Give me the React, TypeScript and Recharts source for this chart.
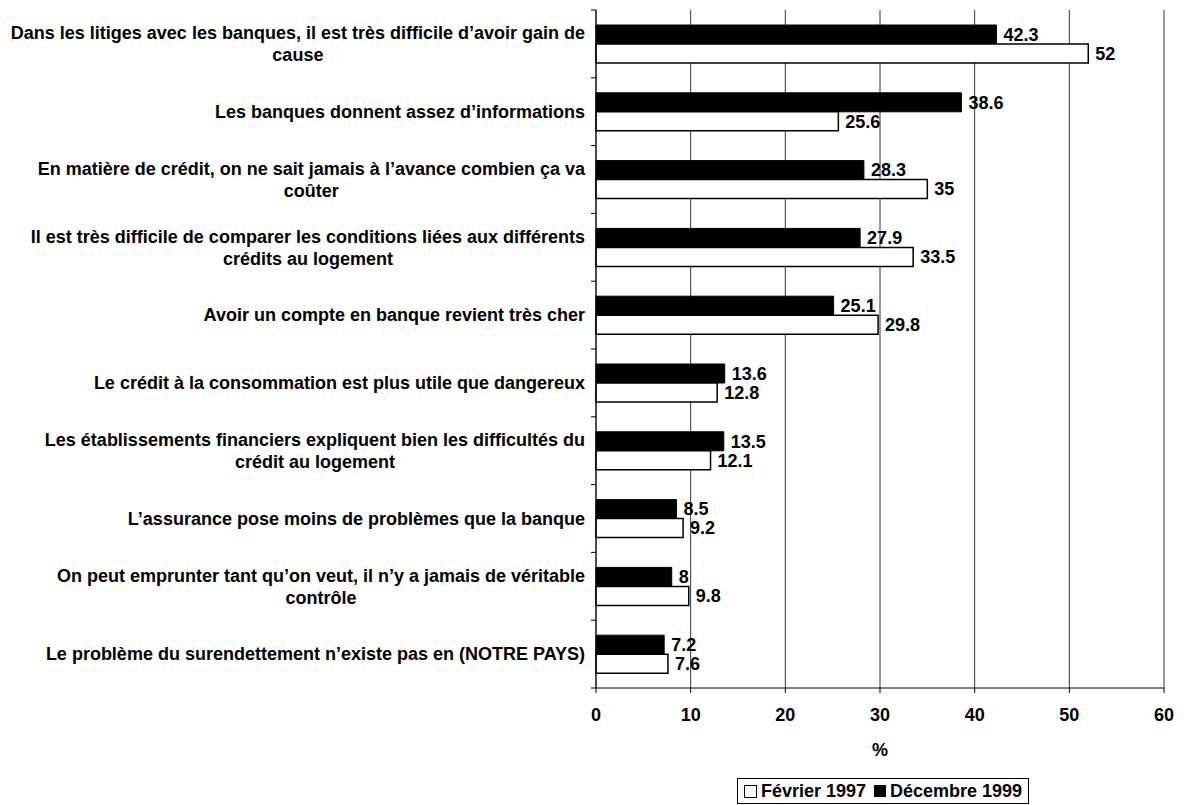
import React from 'react';
import { BarChart, Bar, XAxis, YAxis, CartesianGrid, LabelList, Legend } from 'recharts';

const categories = [
  'Dans les litiges avec les banques, il est très difficile d’avoir gain de\ncause',
  'Les banques donnent assez d’informations',
  'En matière de crédit, on ne sait jamais à l’avance combien ça va\ncoûter',
  'Il est très difficile de comparer les conditions liées aux différents\ncrédits au logement',
  'Avoir un compte en banque revient très cher',
  'Le crédit à la consommation est plus utile que dangereux',
  'Les établissements financiers expliquent bien les difficultés du\ncrédit au logement',
  'L’assurance pose moins de problèmes que la banque',
  'On peut emprunter tant qu’on veut, il n’y a jamais de véritable\ncontrôle',
  'Le problème du surendettement n’existe pas en (NOTRE PAYS)',
];
const fevrier1997 = [52, 25.6, 35, 33.5, 29.8, 12.8, 12.1, 9.2, 9.8, 7.6];
const decembre1999 = [42.3, 38.6, 28.3, 27.9, 25.1, 13.6, 13.5, 8.5, 8, 7.2];
const xTicks = [0, 10, 20, 30, 40, 50, 60];
const seriesNames = ['Février 1997', 'Décembre 1999'];

const data = categories.map((name, i) => ({
  name,
  feb: fevrier1997[i],
  dec: decembre1999[i],
}));

const FONT = '"Liberation Sans", Arial, sans-serif';
const FS = 18;

let ctx: CanvasRenderingContext2D | null = null;
function measure(text: string): number {
  if (!ctx) {
    const c = document.createElement('canvas');
    ctx = c.getContext('2d');
  }
  if (!ctx) return text.length * FS * 0.55;
  ctx.font = `bold ${FS}px ${FONT}`;
  return ctx.measureText(text).width;
}

const CategoryTick = (props: any) => {
  const { x, y, payload, index, visibleTicksCount } = props;
  const half = payload && payload.offset ? payload.offset : 34;
  const lines: string[] = String(payload.value).split('\n');
  const lh = 22;
  const maxW = Math.max(...lines.map(measure));
  const right = x;
  const cx = right - maxW / 2;
  const startY = y - ((lines.length - 1) * lh) / 2;
  const axisX = x + 11;
  const isLast = index === (visibleTicksCount ? visibleTicksCount - 1 : categories.length - 1);
  return (
    <g>
      <line x1={axisX - 5} x2={axisX} y1={y - half} y2={y - half} stroke="#000" />
      {isLast && <line x1={axisX - 5} x2={axisX} y1={y + half} y2={y + half} stroke="#000" />}
      {lines.map((ln, i) => (
        <text
          key={i}
          x={lines.length > 1 ? cx : right}
          y={startY + i * lh}
          dy="0.35em"
          textAnchor={lines.length > 1 ? 'middle' : 'end'}
          fontFamily={FONT}
          fontWeight="bold"
          fontSize={FS}
          fill="#000"
        >
          {ln}
        </text>
      ))}
    </g>
  );
};

const ValueLabel = (props: any) => {
  const { x, y, width, height, value } = props;
  return (
    <text
      x={x + width + 7}
      y={y + height / 2}
      dy="0.35em"
      fontFamily={FONT}
      fontWeight="bold"
      fontSize={FS}
      fill="#000"
    >
      {value}
    </text>
  );
};

const LegendBox = () => (
  <div style={{ display: 'flex', justifyContent: 'center' }}>
    <div
      style={{
        display: 'flex',
        alignItems: 'center',
        border: '1px solid #000',
        padding: '2px 6px',
        fontFamily: FONT,
        fontWeight: 'bold',
        fontSize: FS,
        background: '#fff',
        lineHeight: '20px',
      }}
    >
      <span style={{ display: 'inline-block', width: 11, height: 11, border: '1px solid #000', background: '#fff', marginRight: 4 }} />
      <span style={{ marginRight: 8 }}>{seriesNames[0]}</span>
      <span style={{ display: 'inline-block', width: 12, height: 12, background: '#000', marginRight: 4 }} />
      <span>{seriesNames[1]}</span>
    </div>
  </div>
);

export default function App() {
  return (
    <div style={{ position: 'absolute', left: 0, top: 0, background: '#fff' }}>
      <BarChart
        layout="vertical"
        width={1184}
        height={805}
        data={data}
        margin={{ top: 10, right: 20, bottom: 29, left: 0 }}
        barGap={0}
        barSize={19}
      >
        <CartesianGrid horizontal={false} stroke="#333" strokeWidth={1} />
        <XAxis
          type="number"
          domain={[0, 60]}
          ticks={xTicks}
          interval={0}
          tickSize={5}
          tickMargin={15}
          height={60}
          axisLine={{ stroke: '#000' }}
          tickLine={{ stroke: '#000' }}
          tick={{ fontFamily: FONT, fontWeight: 'bold', fontSize: FS, fill: '#000' }}
          label={{ value: '%', position: 'insideBottom', offset: -8, fontFamily: FONT, fontWeight: 'bold', fontSize: FS, fill: '#000' }}
        />
        <YAxis
          type="category"
          dataKey="name"
          width={596}
          interval={0}
          tickLine={false}
          tickSize={5}
          tickMargin={6}
          axisLine={{ stroke: '#000' }}
          tick={<CategoryTick />}
        />
        <Legend
          content={<LegendBox />}
          wrapperStyle={{ left: 596, width: 574, top: 778, bottom: 'auto', height: 28 }}
        />
        <Bar dataKey="dec" name={seriesNames[1]} fill="#000" stroke="#000" isAnimationActive={false}>
          <LabelList dataKey="dec" content={<ValueLabel />} />
        </Bar>
        <Bar dataKey="feb" name={seriesNames[0]} fill="#fff" stroke="#000" strokeWidth={1.5} isAnimationActive={false}>
          <LabelList dataKey="feb" content={<ValueLabel />} />
        </Bar>
      </BarChart>
    </div>
  );
}
